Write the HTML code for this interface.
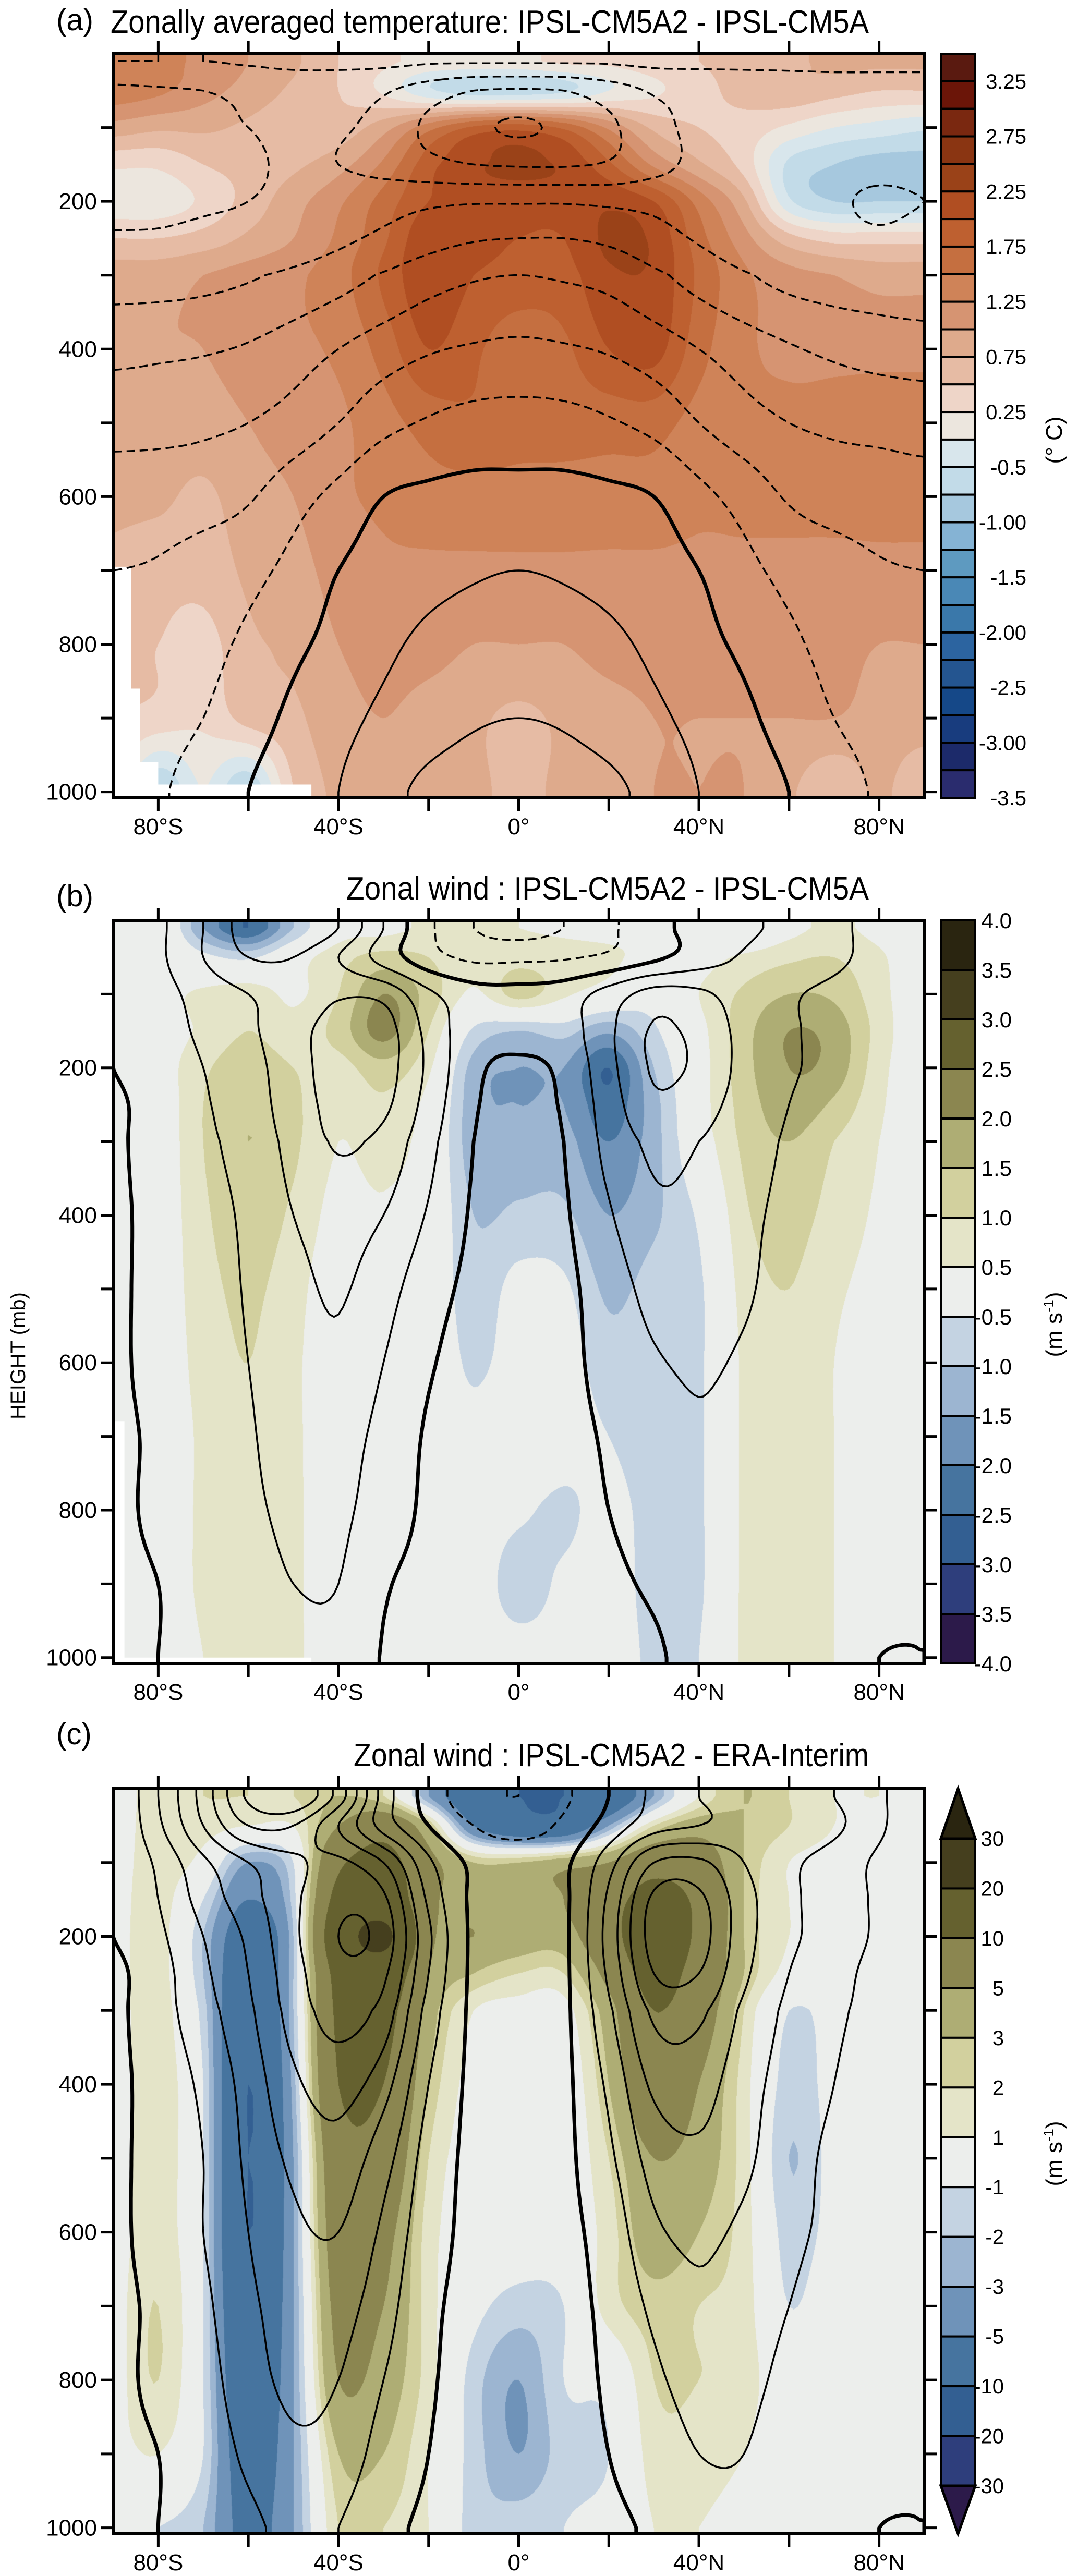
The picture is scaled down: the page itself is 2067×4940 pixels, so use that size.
<!DOCTYPE html>
<html><head><meta charset="utf-8">
<style>
html,body{margin:0;padding:0;background:#fff;}
body{width:2067px;height:4940px;position:relative;overflow:hidden;font-family:"Liberation Sans",sans-serif;}
canvas{position:absolute;}
#ov{position:absolute;left:0;top:0;}
</style></head>
<body>
<canvas id="cA"></canvas>
<canvas id="cB"></canvas>
<canvas id="cC"></canvas>
<svg id="ov" width="2067" height="4940" xmlns="http://www.w3.org/2000/svg">
<g font-family="Liberation Sans, sans-serif" fill="#000">
<text x="108" y="58" font-size="58">(a)</text>
<text x="212" y="63" font-size="62" textLength="1454" lengthAdjust="spacingAndGlyphs">Zonally averaged temperature: IPSL-CM5A2 - IPSL-CM5A</text>
<text x="108" y="1738" font-size="58">(b)</text>
<text x="664" y="1725" font-size="62" textLength="1002" lengthAdjust="spacingAndGlyphs">Zonal wind : IPSL-CM5A2 - IPSL-CM5A</text>
<text x="108" y="3345" font-size="58">(c)</text>
<text x="678" y="3387" font-size="62" textLength="988" lengthAdjust="spacingAndGlyphs">Zonal wind : IPSL-CM5A2 - ERA-Interim</text>
<text transform="translate(48,2600) rotate(-90)" text-anchor="middle" font-size="40">HEIGHT (mb)</text>
<text transform="translate(2036,844) rotate(-90)" text-anchor="middle" font-size="44">(° C)</text>
<text transform="translate(2036,2540) rotate(-90)" text-anchor="middle" font-size="44">(m s<tspan font-size="28" dy="-16">-1</tspan><tspan dy="16">)</tspan></text>
<text transform="translate(2036,4130) rotate(-90)" text-anchor="middle" font-size="44">(m s<tspan font-size="28" dy="-16">-1</tspan><tspan dy="16">)</tspan></text>
</g>
</svg>
<script>
// ---------- data ----------
const LATS=[-90,-80,-70,-60,-50,-40,-30,-20,-10,0,10,20,30,40,50,60,70,80,90];
const PLEV=[10,50,100,150,200,250,300,400,500,600,700,800,900,1000];
// (a) temperature difference, shaded
const tempDiff=[
[1.3,1.3,1.2,1.0,0.8,0.5,0.3,0.2,0.2,0.2,0.3,0.3,0.4,0.5,0.6,0.7,0.8,0.8,0.8],
[1.4,1.3,1.1,0.9,0.7,0.5,0.2,-0.2,-0.4,-0.4,-0.3,0.0,0.2,0.4,0.6,0.7,0.6,0.5,0.5],
[0.9,0.8,0.8,0.7,0.6,0.6,0.9,1.4,1.8,1.9,1.7,1.2,0.7,0.5,0.4,0.2,0.0,-0.1,-0.2],
[0.3,0.3,0.5,0.6,0.7,0.9,1.3,1.9,2.2,2.3,2.2,1.8,1.2,0.8,0.4,-0.3,-0.5,-0.6,-0.6],
[0.1,0.1,0.3,0.6,0.9,1.2,1.6,2.0,2.1,2.1,2.1,2.2,2.0,1.4,0.8,-0.2,-0.5,-0.5,-0.5],
[0.5,0.5,0.6,0.8,1.0,1.3,1.7,2.2,2.1,2.0,2.0,2.3,2.2,1.6,1.1,0.6,0.4,0.4,0.4],
[0.9,0.9,1.0,1.1,1.2,1.4,1.8,2.2,2.0,1.9,1.9,2.2,2.2,1.7,1.3,1.1,1.0,0.9,0.9],
[1.0,1.0,1.0,1.1,1.2,1.3,1.6,2.0,1.8,1.6,1.7,2.0,2.1,1.6,1.3,1.2,1.2,1.2,1.2],
[0.9,0.9,0.9,1.0,1.1,1.2,1.4,1.6,1.7,1.6,1.6,1.6,1.6,1.4,1.3,1.3,1.3,1.3,1.3],
[0.8,0.8,0.7,0.9,1.0,1.2,1.3,1.4,1.4,1.4,1.4,1.4,1.4,1.3,1.3,1.3,1.3,1.3,1.3],
[0.7,0.6,0.6,0.8,0.9,1.1,1.2,1.2,1.2,1.2,1.2,1.2,1.2,1.2,1.2,1.2,1.2,1.2,1.2],
[0.6,0.5,0.4,0.7,0.8,1.0,1.1,1.1,1.0,1.0,1.0,1.1,1.1,1.1,1.1,1.1,1.1,1.0,1.0],
[0.5,0.4,0.3,0.6,0.7,0.9,1.0,0.9,0.8,0.7,0.8,0.9,1.0,1.0,1.0,1.0,1.0,0.9,0.9],
[0.3,-0.5,0.0,-0.5,0.5,0.8,0.9,0.9,0.8,0.7,0.8,0.9,1.0,1.0,1.0,0.8,0.5,0.8,0.5]];
// (a) temperature climatology, contour lines
const tempClim=[
[-50,-50,-50,-49,-48,-48,-48,-49,-49,-49,-49,-49,-48,-48,-48,-48,-48,-48,-48],
[-62,-61,-60,-58,-56,-56,-59,-65,-70,-71,-70,-65,-59,-57,-56,-55,-54,-54,-54],
[-63,-62,-61,-60,-58,-59,-63,-72,-78,-81,-78,-72,-63,-58,-57,-56,-56,-56,-56],
[-64,-63,-62,-61,-59,-60,-63,-67,-70,-71,-71,-69,-63,-58,-57,-57,-58,-58,-58],
[-63,-62,-61,-60,-58,-56,-54,-52,-51,-51,-51,-52,-53,-55,-56,-57,-59,-61,-60],
[-59,-59,-58,-57,-55,-52,-48,-44,-41,-40,-40,-42,-46,-51,-54,-56,-58,-59,-58],
[-54,-54,-53,-51,-48,-44,-39,-34,-31,-30,-31,-33,-38,-44,-49,-53,-55,-56,-57],
[-43,-42,-41,-39,-35,-30,-25,-21,-19,-18,-19,-21,-25,-30,-35,-39,-42,-44,-45],
[-33,-33,-32,-30,-26,-20,-13,-9,-6.5,-6,-6.5,-9,-13,-20,-26,-30,-32,-33,-34],
[-26,-25,-24,-21,-14,-7,0,2,3,3,3,2,0,-7,-14,-21,-24,-25,-26],
[-20,-19,-16,-13,-7,0,4,7,9,10,9,7,4,0,-7,-13,-16,-19,-20],
[-16,-15,-13,-8,-2,3,8,12,14,15,14,12,8,3,-2,-8,-13,-15,-16],
[-14,-13,-10,-4,2,7,12,16,19,20,19,16,12,7,2,-4,-10,-13,-14],
[-13,-11,-6,0,5,10,17,22,24,25,24,22,17,10,5,0,-6,-11,-13]];
// (b) zonal wind difference, shaded
const windDiffB=[
[0,0.3,-1.5,-2.5,-1,0.2,0.3,0.6,0.6,0.5,0.4,0.3,0.3,0.3,-0.3,0.3,0.6,0.3,0],
[0,0.4,-0.3,-0.6,0.2,0.8,1.2,1.0,0.6,0.8,0.7,0.6,0.3,0.3,0.6,0.9,1.0,0.6,0],
[0,0.3,0.6,0.8,0.4,1.0,2.0,1.3,0.4,1.2,0.6,0.2,-0.2,0.5,1.1,1.5,1.4,0.7,0],
[0,0.2,0.6,1.0,0.7,1.2,2.2,1.0,-0.6,-1.0,-0.8,-1.4,-0.6,0.3,1.3,2.0,1.8,0.8,0],
[0,0.2,0.9,1.3,1.0,0.8,1.3,0.6,-1.2,-1.5,-1.5,-2.5,-1.0,0.2,1.3,2.0,1.8,0.7,0],
[0,0.1,1.0,1.4,1.1,0.6,0.9,0.3,-1.3,-1.5,-1.5,-2.3,-1.2,0.2,1.2,1.8,1.4,0.6,0],
[0,0.1,1.0,1.5,1.1,0.5,0.7,0.2,-1.3,-1.3,-1.3,-2.0,-1.2,0.1,1.1,1.5,1.0,0.5,0],
[0,0.1,0.9,1.3,0.9,0.3,0.4,0.1,-1.0,-0.9,-0.9,-1.5,-1.1,-0.4,0.9,1.2,0.8,0.4,0],
[0,0.1,0.8,1.1,0.7,0.1,0.1,0.0,-0.8,-0.3,-0.4,-1.1,-0.8,-0.6,0.7,1.0,0.6,0.3,0],
[0,0.1,0.7,1.0,0.6,0.1,0.0,0.0,-0.6,-0.2,-0.2,-0.8,-0.7,-0.6,0.6,0.9,0.5,0.2,0],
[0,0.1,0.6,0.9,0.6,0.1,0.0,0.0,-0.3,0.0,-0.2,-0.5,-0.8,-0.6,0.6,0.8,0.5,0.2,0],
[0,0.1,0.6,0.8,0.6,0.1,0.0,0.0,-0.2,-0.4,-0.6,-0.3,-0.7,-0.6,0.6,0.8,0.5,0.2,0],
[0,0.1,0.6,0.8,0.6,0.1,0.0,0.0,-0.2,-0.7,-0.4,-0.2,-0.7,-0.6,0.6,0.8,0.5,0.2,0],
[0,0.1,0.5,0.7,0.6,0.1,0.0,0.0,-0.2,-0.3,-0.3,-0.2,-0.6,-0.5,0.6,0.7,0.5,0.2,0]];
// (b) zonal wind climatology, contour lines
const windClimB=[
[0,8,20,35,40,30,10,-8,-20,-24,-20,-12,-3,3,8,12,12,6,0],
[0,8,20,30,30,20,6,-6,-12,-12,-11,-8,-2,5,11,14,12,6,0],
[0,6,14,20,25,29,27,12,4,3,5,14,24,22,15,11,8,4,0],
[0,5,12,18,27,33,34,17,4,2,5,18,31,27,17,11,8,4,0],
[0,4,10,16,26,34,34,18,2,-1,2,17,31,28,17,11,8,4,0],
[-1,3,9,15,25,33,32,16,1,-2,1,15,28,24,16,10,7,3,0],
[-1,3,8,14,23,31,27,13,0,-3,0,13,22,20,14,9,6,3,0],
[-1,2,6,12,20,24,20,9,-1,-3,-1,9,18,17,12,8,5,2,0],
[-1,2,5,11,17,21,14,4,-2,-3,-2,5,13,14,11,7,4,2,0],
[-1,2,5,10,15,18,10,1,-3,-3,-2,3,9,11,9,6,4,2,0],
[-1,1,4,9,14,14,7,-1,-3,-3,-2,1,6,9,7,5,3,1,0],
[-1,1,3,8,12,12,5,-1.5,-2.5,-2,-2,0,3,7,6,4,2,1,0],
[-1,0,2,6,10,10,1,-2,-2,-2,-2,-1,1,5,5,3,2,1,0],
[-1,0,1,4,7,7,-0.5,-2,-2,-2,-2,-2,-1,3,4,2,1,0,0]];
// (c) zonal wind climatology (reference dataset), contour lines
const windClimC=[
[0,10,22,36,40,28,8,-2,-8,-10,-6,0,6,10,12,12,10,6,0],
[0,9,20,30,30,20,8,0,-5,-7,-4,2,8,10,12,13,11,6,0],
[0,6,14,20,24,26,20,6,-1,-2,-1,8,20,21,15,11,8,4,0],
[0,5,12,18,24,29,26,9,-1,-2,-1,11,26,26,17,11,8,4,0],
[0,4,10,16,24,30,28,11,-1,-2,-1,12,27,27,17,11,8,4,0],
[-1,3,9,15,23,29,26,10,-1,-2,-1,11,25,25,16,10,7,3,0],
[-1,3,8,14,22,27,23,8,-1,-2,-1,9,21,21,14,9,6,3,0],
[-1,2,6,12,19,22,17,5,-1,-2,-1,6,16,17,12,8,5,2,0],
[-1,2,5,11,16,18,12,3,-1,-2,-1,4,12,14,11,7,4,2,0],
[-1,2,5,10,14,15,9,2,-1,-2,-1,2,9,11,9,6,4,2,0],
[-1,1,4,9,12,12,7,1,-1,-2,-1,1,6,9,7,5,3,1,0],
[-1,1,3,8,11,10,5,0.5,-1,-2,-1,0.5,4,7,6,4,2,1,0],
[-1,0,2,6,9,8,3,0,-1,-2,-1,0,2,5,5,3,2,1,0],
[-1,0,1,4,6,5,1,-0.5,-1.5,-2,-1.5,-0.5,0.5,3,4,2,1,0,0]];
// (c) zonal wind difference vs ERA-Interim, shaded
const windDiffC=[
[0.5,1.5,2,2,2,3,2,-3,-8,-10,-10,-8,-3,1,3,2,1,1,0.5],
[0.5,1.5,1.5,1,1,5,8,3,-5,-8,-8,-3,2,4,3,2,1,0.5,0],
[0.5,1.5,0.5,-3,-1,9,12,6,3,3,4,5,8,7,3,1,0.5,0,0],
[0.5,1.5,-1,-5,-1.5,12,15,6,4,4,5,8,12,9,3,1,0.5,0,0],
[0.5,1.5,-2,-7,-2,15,22,6,5,4,4,8,14,9,3,1,0.5,0,0],
[0.5,1.5,-2,-8,-2,12,15,5,3,2,2,6,12,8,3,0.5,0,0,0],
[0.5,1.5,-1.5,-9,-2,11,12,4,1,0.5,0.5,4,10,7,2,-1,-0.5,0,0],
[0.5,1.5,-1,-10,-2.5,10,10,3,0.5,0,0,3,8,5,1.5,-1.5,-0.5,0,0],
[0.5,1.5,-1,-10,-3,8,8,2,0.5,0,0,2,5,4,1.5,-2,-0.5,0,0],
[0.5,1.5,-1,-10,-3,7,6,1.5,0.5,0,0,1.5,4,3,1.5,-1.5,-0.5,0,0],
[0.5,2,-1,-9,-3,6,5,1.5,-0.5,-1.5,-1,1.5,2.5,2,1.5,-1,0,0,0],
[0.5,2,-1,-8,-3,5,4,1.5,-1.5,-3,-1,-0.5,2,2,1.5,0,0,0,0],
[0.5,1,-1,-7,-3,3,3,1,-1.5,-3,-1.5,-1,1.5,1.5,1,0,0,0,0],
[-1,-1,-2,-6,-3,2,2,1,-1.5,-1.5,-1,-0.5,1,1,0.5,0,0,0,0]];
// colour scales
const thrA=[3.25,3.0,2.75,2.5,2.25,2.0,1.75,1.5,1.25,1.0,0.75,0.5,0.25,0.0,-0.25,-0.5,-0.75,-1.0,-1.25,-1.5,-1.75,-2.0,-2.25,-2.5,-2.75,-3.0];
const colorsA=["#5a1a10","#6b1508","#7a2810","#8a3512","#9a4218","#b04e22","#be6030","#c56f40","#cf8358","#d69472","#deaa8c","#e6bba4","#eed5c8","#ece6de","#d8e6ec","#c2dbe8","#a6c8de","#85b3d4","#5e9ac0","#4a88b6","#3a78aa","#2c64a0","#245590","#154888","#183c7e","#1c2a6a","#2a2c6e"];
const labelsA=["3.25","2.75","2.25","1.75","1.25","0.75","0.25","-0.5","-1.00","-1.5","-2.00","-2.5","-3.00","-3.5"];
const thrB=[3.5,3.0,2.5,2.0,1.5,1.0,0.5,-0.5,-1.0,-1.5,-2.0,-2.5,-3.0,-3.5];
const colorsB=["#2a2510","#453f1e","#65612f","#8b8650","#aead74","#d2d09e","#e4e4c8","#eceeec","#c4d3e2","#9cb5d1","#6f93b9","#46749f","#335f92","#2e3e7c","#2c1a4a"];
const labelsB=["4.0","3.5","3.0","2.5","2.0","1.5","1.0","0.5","-0.5","-1.0","-1.5","-2.0","-2.5","-3.0","-3.5","-4.0"];
const thrC=[30,20,10,5,3,2,1,-1,-2,-3,-5,-10,-20,-30];
const colorsC=["#2a2510","#453f1e","#65612f","#8b8650","#aead74","#d2d09e","#e4e4c8","#eceeec","#c4d3e2","#9cb5d1","#6f93b9","#46749f","#335f92","#2e3e7c","#2c1a4a"];
const labelsC=["30","20","10","5","3","2","1","-1","-2","-3","-5","-10","-20","-30"];
const levelsA=[-80,-70,-60,-50,-40,-30,-20,-10,0,10,20];
const levelsB=[-20,-10,0,10,20,30];
const levelsC=[-10,-5,0,5,10,15,20,25,30,35];
const xTicks=[-80,-60,-40,-20,0,20,40,60,80];
const xLabelVals=[-80,-40,0,40,80];
const xLabelText=["80°S","40°S","0°","40°N","80°N"];
const yTicks=[100,200,300,400,500,600,700,800,900,1000];
const yLabelVals=[200,400,600,800,1000];
const maskA=[[-90,695],[-86,695],[-86,860],[-84,860],[-84,960],[-80,960],[-80,990],[-46,990],[-46,1012],[-90,1012]];
const maskB=[[-90,680],[-87.5,680],[-87.5,1000],[-46,1000],[-46,1012],[-90,1012]];

// ---------- geometry ----------
const L=217,R=1772,W=R-L,PMAX=1008;
const panels=[
 {id:"a",canvas:"cA",top:103,bot:1530,fill:tempDiff,thr:thrA,colors:colorsA,lines:tempClim,levels:levelsA,mask:maskA},
 {id:"b",canvas:"cB",top:1765,bot:3190,fill:windDiffB,thr:thrB,colors:colorsB,lines:windClimB,levels:levelsB,mask:maskB},
 {id:"c",canvas:"cC",top:3430,bot:4859,fill:windDiffC,thr:thrC,colors:colorsC,lines:windClimC,levels:levelsC,mask:null}];
const X=lat=>L+(lat+90)/180*W;
const Yf=(pn,p)=>pn.top+p/PMAX*(pn.bot-pn.top);
const NS="http://www.w3.org/2000/svg";
const svg=document.getElementById("ov");
function mk(tag,attrs,parent){const e=document.createElementNS(NS,tag);for(const k in attrs)e.setAttribute(k,attrs[k]);(parent||svg).appendChild(e);return e;}

// ---------- interpolation ----------
const cl=(v,a,b)=>v<a?a:(v>b?b:v);
function cr(p0,p1,p2,p3,t){return 0.5*(2*p1+(-p0+p2)*t+(2*p0-5*p1+4*p2-p3)*t*t+(-p0+3*p1-3*p2+p3)*t*t*t);}
function pIdx(p){if(p<=PLEV[0])return 0;for(let k=0;k<PLEV.length-1;k++){if(p<=PLEV[k+1])return k+(p-PLEV[k])/(PLEV[k+1]-PLEV[k]);}return PLEV.length-1;}
function sample(G,lat,p){
 const nI=G[0].length-1,nJ=G.length-1;
 const ti=(lat-LATS[0])/10;let i1=cl(Math.floor(ti),0,nI-1);const t=ti-i1;
 const tj=pIdx(p);let j1=cl(Math.floor(tj),0,nJ-1);const u=tj-j1;
 const row=j=>{const r=G[cl(j,0,nJ)];return cr(r[cl(i1-1,0,nI)],r[i1],r[cl(i1+1,0,nI)],r[cl(i1+2,0,nI)],t);};
 return cr(row(j1-1),row(j1),row(j1+1),row(j1+2),u);
}
const NX=181,NY=203,DP=5;
function fine(G){const F=[];for(let j=0;j<NY;j++){const r=new Float32Array(NX);for(let i=0;i<NX;i++)r[i]=sample(G,-90+i,j*DP);F.push(r);}return F;}
function hex(c){return [parseInt(c.substr(1,2),16),parseInt(c.substr(3,2),16),parseInt(c.substr(5,2),16)];}

// ---------- contour tracing ----------
function trace(F,lev){
 const ny=F.length,nx=F[0].length,OFF=1e6;const segs=[];const adj=new Map();
 const s=v=>v>=lev;
 function add(k1,k2){const n=segs.length;segs.push([k1,k2]);[k1,k2].forEach(k=>{if(!adj.has(k))adj.set(k,[]);adj.get(k).push(n);});}
 for(let j=0;j<ny-1;j++)for(let i=0;i<nx-1;i++){
  const a=F[j][i],b=F[j][i+1],c=F[j+1][i+1],d=F[j+1][i];
  const T=s(a)!==s(b)?j*nx+i:-1, Rr=s(b)!==s(c)?OFF+j*nx+i+1:-1, B=s(d)!==s(c)?(j+1)*nx+i:-1, Lf=s(a)!==s(d)?OFF+j*nx+i:-1;
  const e=[T,Rr,B,Lf].filter(k=>k>=0);
  if(e.length===2)add(e[0],e[1]);
  else if(e.length===4){const cen=(a+b+c+d)/4;if(s(cen)===s(a)){add(T,Rr);add(B,Lf);}else{add(T,Lf);add(Rr,B);}}
 }
 function pt(k){if(k<OFF){const j=Math.floor(k/nx),i=k%nx;const a=F[j][i]-lev,b=F[j][i+1]-lev;return [i+a/(a-b),j];}
  const k2=k-OFF;const j=Math.floor(k2/nx),i=k2%nx;const a=F[j][i]-lev,b=F[j+1][i]-lev;return [i,j+a/(a-b)];}
 const used=new Uint8Array(segs.length);const paths=[];
 function walk(start){const out=[];let cur=start;while(true){const lst=adj.get(cur)||[];let nxt=-1;for(const n of lst)if(!used[n]){nxt=n;break;}if(nxt<0)break;used[nxt]=1;const sg=segs[nxt];cur=sg[0]===cur?sg[1]:sg[0];out.push(cur);}return out;}
 for(let n=0;n<segs.length;n++){if(used[n])continue;used[n]=1;const f=walk(segs[n][1]);const bk=walk(segs[n][0]);
  const keys=bk.reverse().concat([segs[n][0],segs[n][1]],f);paths.push(keys.map(pt));}
 return paths;
}

// ---------- draw panels ----------
panels.forEach(pn=>{
 const H=pn.bot-pn.top;
 const cv=document.getElementById(pn.canvas);cv.width=W;cv.height=H;cv.style.left=L+"px";cv.style.top=pn.top+"px";
 const ctx=cv.getContext("2d");const img=ctx.createImageData(W,H);const dat=img.data;
 const F=fine(pn.fill);const cols=pn.colors.map(hex);
 for(let y=0;y<H;y++){const fj=cl((y+0.5)/H*PMAX/DP,0,NY-1.001);const j0=Math.floor(fj),v=fj-j0;
  for(let x=0;x<W;x++){const fi=cl((x+0.5)/W*180,0,NX-1.001);const i0=Math.floor(fi),u=fi-i0;
   const val=(F[j0][i0]*(1-u)+F[j0][i0+1]*u)*(1-v)+(F[j0+1][i0]*(1-u)+F[j0+1][i0+1]*u)*v;
   let idx=0;for(const t of pn.thr){if(val<t)idx++;else break;}
   const c=cols[idx];const o=(y*W+x)*4;dat[o]=c[0];dat[o+1]=c[1];dat[o+2]=c[2];dat[o+3]=255;}}
 ctx.putImageData(img,0,0);

 const g=mk("g",{});
 
 
 if(pn.mask){
  const m=mk("polygon",{points:pn.mask.map(q=>X(q[0]).toFixed(1)+","+Yf(pn,q[1]).toFixed(1)).join(" "),fill:"#fff"},g);
  
  
 }
 const FL=fine(pn.lines);
 pn.levels.forEach(lev=>{
  const paths=trace(FL,lev);
  paths.forEach(pts=>{
   if(pts.length<3)return;
   const d="M"+pts.map(q=>(L+q[0]/180*W).toFixed(1)+" "+Yf(pn,q[1]*DP).toFixed(1)).join("L");
   const el=mk("path",{d:d,fill:"none",stroke:"#000","stroke-width":lev===0?7:3.5,"stroke-linejoin":"round","stroke-dasharray":lev<0?"16 9":"none"},g);
   
   
  });
 });
 const fr=mk("rect",{x:L,y:pn.top,width:W,height:H,fill:"none",stroke:"#000","stroke-width":6},g);
 
 
 xTicks.forEach(v=>{const x=X(v);
  const t1=mk("line",{x1:x,x2:x,y1:pn.top-24,y2:pn.top,stroke:"#000","stroke-width":5},g);
  
  
  const t2=mk("line",{x1:x,x2:x,y1:pn.bot,y2:pn.bot+26,stroke:"#000","stroke-width":5},g);
  
  });
 yTicks.forEach(v=>{const y=Yf(pn,v);
  const t1=mk("line",{x1:L-24,x2:L,y1:y,y2:y,stroke:"#000","stroke-width":5},g);
  
  
  const t2=mk("line",{x1:R,x2:R+25,y1:y,y2:y,stroke:"#000","stroke-width":5},g);
  
  });
 xLabelVals.forEach((v,k)=>{
  const t=mk("text",{x:X(v),y:pn.bot+70,"text-anchor":"middle","font-size":44,"font-family":"Liberation Sans, sans-serif"},g);
  t.textContent=xLabelText[k];
  
  });
 yLabelVals.forEach(v=>{
  const t=mk("text",{x:186,y:Yf(pn,v)+15,"text-anchor":"end","font-size":44,"font-family":"Liberation Sans, sans-serif"},g);
  t.textContent=String(v);
  
  });
});

// ---------- colorbars ----------
const CB0=1804,CB1=1870;
function box(g,y0,y1,col,name){const r=mk("rect",{x:CB0,y:y0,width:CB1-CB0,height:y1-y0,fill:col,stroke:"#000","stroke-width":4},g);
 
 }
function lab(g,x,y,txt,size,name){const t=mk("text",{x:x,y:y,"text-anchor":"end","font-size":size,"font-family":"Liberation Sans, sans-serif"},g);t.textContent=txt;
 
 }
(function(){
 const g=mk("g",{});
 const top=103,bot=1530,h=(bot-top)/colorsA.length;
 colorsA.forEach((c,k)=>box(g,top+k*h,top+(k+1)*h,c,'colorbar-a-box'));
 labelsA.forEach((s,k)=>lab(g,1968,top+(2*k+1)*h+14,s,40,'colorbar-a-label'));
})();
(function(){
 const g=mk("g",{});
 const top=1765,bot=3190,h=(bot-top)/colorsB.length;
 colorsB.forEach((c,k)=>box(g,top+k*h,top+(k+1)*h,c,'colorbar-b-box'));
 labelsB.forEach((s,k)=>lab(g,1940,top+k*h+15,s,42,'colorbar-b-label'));
})();
(function(){
 const g=mk("g",{});
 const tipT=3430,top=3526,bot=4767,tipB=4859,n=colorsC.length-2,h=(bot-top)/n;
 const tr1=mk("polygon",{points:`${CB0},${top} ${CB1},${top} ${(CB0+CB1)/2},${tipT}`,fill:colorsC[0],stroke:"#000","stroke-width":5},g);
 
 
 for(let k=0;k<n;k++)box(g,top+k*h,top+(k+1)*h,colorsC[k+1],'colorbar-c-box');
 const tr2=mk("polygon",{points:`${CB0},${bot} ${CB1},${bot} ${(CB0+CB1)/2},${tipB}`,fill:colorsC[colorsC.length-1],stroke:"#000","stroke-width":5},g);
 
 
 labelsC.forEach((s,k)=>lab(g,1925,top+k*h+14,s,40,'colorbar-c-label'));
})();
</script>
</body></html>
